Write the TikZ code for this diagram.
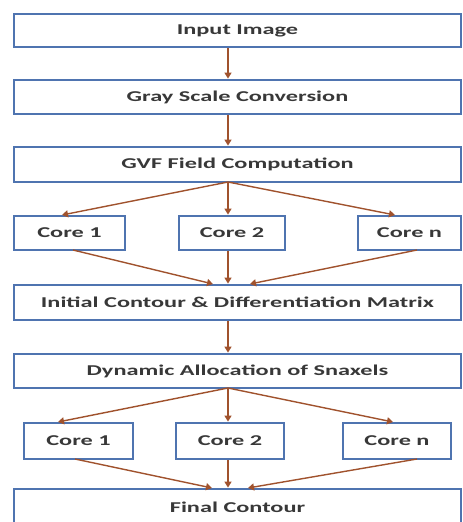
\documentclass[tikz,border=0pt]{standalone}
\usepackage{fontspec}
\setmainfont{Carlito}
\usetikzlibrary{arrows.meta}
\definecolor{boxblue}{HTML}{4F74B0}
\definecolor{arrowbrown}{HTML}{A0522D}
\definecolor{txt}{HTML}{383838}
\tikzset{
  x=1pt, y=-1pt,
  blk/.style={draw=boxblue, line width=2.8pt, fill=white, inner sep=0pt,
    text=txt, font=\fontsize{15}{17}\selectfont\bfseries},
  arr/.style={draw=arrowbrown, line width=1.4pt, -{Triangle[length=6pt,width=7pt]}}
}
\newcommand{\blkbox}[6]{% name, x1,y1,x2,y2, text
  \node[blk, minimum width={#4-#2}, minimum height={#5-#3}] (#1) at ({(#2+#4)/2},{(#3+#5)/2}) {\scalebox{1.62}[1]{#6}};}
\begin{document}
\begin{tikzpicture}
\useasboundingbox (0,0) rectangle (463,522);
\blkbox{inp}{14}{14}{461}{47}{Input Image}
\blkbox{gray}{14}{80}{461}{114}{Gray Scale Conversion}
\blkbox{gvf}{14}{147}{461}{182}{GVF Field Computation}
\blkbox{ca}{14}{216}{125}{250}{Core 1}
\blkbox{cb}{179}{216}{285}{250}{Core 2}
\blkbox{cc}{358}{216}{461}{250}{Core n}
\blkbox{init}{14}{285}{461}{320}{Initial Contour \& Differentiation Matrix}
\blkbox{dyn}{14}{354}{461}{388}{Dynamic Allocation of Snaxels}
\blkbox{da}{24}{423}{133}{459}{Core 1}
\blkbox{db}{176}{423}{284}{459}{Core 2}
\blkbox{dc}{343}{423}{451}{459}{Core n}
\blkbox{fin}{14}{489}{461}{530}{\raisebox{4pt}{Final Contour}}
% arrows
\coordinate (inpS) at (228,47);
\draw[arr] (inp.south -| inpS) -- (gray.north -| inpS);
\draw[arr] (gray.south -| inpS) -- (gvf.north -| inpS);
\coordinate (gvfS) at (228,182);
\draw[arr] (gvfS) -- (62,215);
\draw[arr] (gvfS) -- (cb.north -| gvfS);
\draw[arr] (gvfS) -- (395,215);
\coordinate (caS) at (73,250);
\coordinate (ccS) at (417,250);
\draw[arr] (caS) -- (213,284);
\draw[arr] (cb.south -| gvfS) -- (init.north -| gvfS);
\draw[arr] (ccS) -- (250,284);
\draw[arr] (init.south -| gvfS) -- (dyn.north -| gvfS);
\coordinate (dynS) at (228,388);
\draw[arr] (dynS) -- (58,422);
\draw[arr] (dynS) -- (db.north -| dynS);
\draw[arr] (dynS) -- (393,422);
\coordinate (daS) at (75,459);
\coordinate (dcS) at (417,459);
\draw[arr] (daS) -- (212,488);
\draw[arr] (db.south -| dynS) -- (fin.north -| dynS);
\draw[arr] (dcS) -- (248,488);
\end{tikzpicture}
\end{document}
